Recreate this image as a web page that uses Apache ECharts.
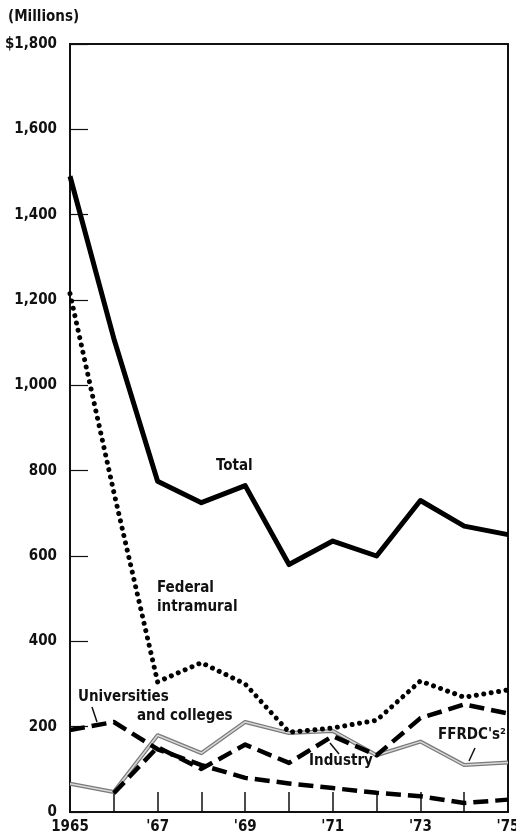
<!DOCTYPE html>
<html lang="en">
<head>
  <meta charset="UTF-8">
  <title>Federal obligations</title>
  <style>
    html,
    body {
      padding: 0;
      margin: 0;
      overflow: hidden;
      background: #fff;
    }
  </style>
  <script src="https://cdn.jsdelivr.net/npm/echarts@6.0.0/dist/echarts.min.js"></script>
</head>
<body>
  <div id="demo"></div>
  <script>
    const years = ['1965', '1966', '1967', '1968', '1969', '1970', '1971', '1972', '1973', '1974', '1975']
    const yearLabels = ['1965', '', "'67", '', "'69", '', "'71", '', "'73", '', "'75"]
    const total = [1490, 1110, 775, 725, 765, 580, 635, 600, 730, 670, 650]
    const federal = [1215, 750, 305, 350, 300, 187, 197, 215, 307, 269, 286]
    const universities = [192, 211, 147, 110, 80, 67, 56, 45, 37, 21, 29]
    const industry = ['-', 44, 152, 101, 158, 115, 178, 133, 220, 252, 231]
    const ffrdc = [66, 47, 180, 138, 211, 185, 190, 133, 165, 110, 116]

    const font = '"DejaVu Sans Condensed", "Liberation Sans Narrow", sans-serif'

    const demo = document.getElementById('demo')
    demo.style.width = '516px'
    demo.style.height = '840px'
    const chart = echarts.init(demo)

    const lineSeries = (name, data, lineStyle, z) => ({
      name,
      type: 'line',
      data,
      symbol: 'none',
      z,
      lineStyle: Object.assign({ color: '#000', join: 'round' }, lineStyle),
      animation: false
    })

    const textEl = (text, left, top) => ({
      type: 'text',
      left,
      top,
      z: 100,
      style: { text, font: 'bold 15px ' + font, fill: '#111' }
    })

    const leader = (x1, y1, x2, y2) => ({
      type: 'line',
      z: 100,
      shape: { x1, y1, x2, y2 },
      style: { stroke: '#111', lineWidth: 1.5 }
    })

    const option = {
      backgroundColor: '#fff',
      animation: false,
      grid: {
        left: 70,
        right: 8,
        top: 44,
        bottom: 28,
        outerBoundsMode: 'none',
        containLabel: false,
        show: true,
        borderColor: '#111',
        borderWidth: 2
      },
      xAxis: {
        type: 'category',
        data: years,
        boundaryGap: false,
        axisLine: { lineStyle: { color: '#111', width: 2 } },
        axisTick: { inside: true, length: 20, interval: 0, lineStyle: { color: '#111', width: 1.5 } },
        axisLabel: {
          interval: 0,
          margin: 8,
          formatter: (v, i) => yearLabels[i],
          fontFamily: font,
          fontWeight: 'bold',
          fontSize: 15,
          color: '#111'
        },
        splitLine: { show: false }
      },
      yAxis: {
        type: 'value',
        min: 0,
        max: 1800,
        interval: 200,
        axisLine: { show: true, lineStyle: { color: '#111', width: 2 } },
        axisTick: { show: true, inside: true, length: 18, lineStyle: { color: '#111', width: 1.2 } },
        axisLabel: {
          margin: 13,
          formatter: v => (v === 1800 ? '$' : '') + v.toLocaleString('en-US'),
          fontFamily: font,
          fontWeight: 'bold',
          fontSize: 15,
          color: '#111',
          padding: [6, 0, 0, 0]
        },
        splitLine: { show: false }
      },
      series: [
        lineSeries('FFRDC outer', ffrdc, { color: '#7a7a7a', width: 4 }, 1),
        lineSeries('FFRDC inner', ffrdc, { color: '#d8d8d8', width: 1.5 }, 2),
        lineSeries('Universities and colleges', universities, { width: 4.5, type: [15, 7] }, 3),
        lineSeries('Industry', industry, { width: 4.5, type: [15, 7] }, 3),
        lineSeries('Federal intramural', federal, { width: 5, type: [0.01, 7.5], cap: 'round' }, 4),
        lineSeries('Total', total, { width: 5 }, 5)
      ],
      graphic: [
        textEl('(Millions)', 8, 10),
        textEl('Total', 216, 459),
        textEl('Federal', 157, 581),
        textEl('intramural', 157, 600),
        textEl('Universities', 78, 690),
        textEl('and colleges', 137, 709),
        textEl('Industry', 309, 754),
        textEl("FFRDC's²", 438, 728),
        leader(92, 707, 97, 722),
        leader(330, 743, 339, 754),
        leader(475, 748, 469, 761)
      ]
    }
    chart.setOption(option)
  </script>
</body>
</html>
